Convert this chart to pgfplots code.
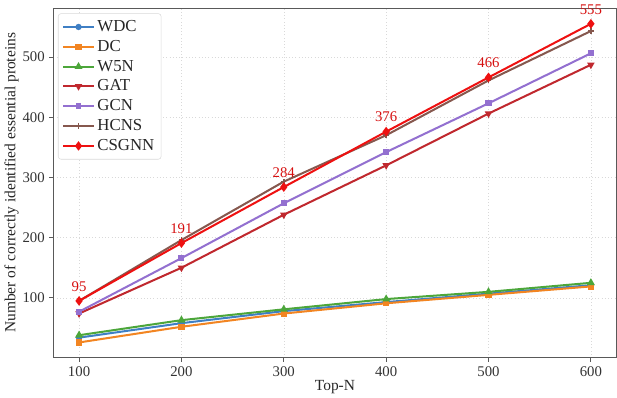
\documentclass[border=0pt]{standalone}
\usepackage{fontspec}
\setmainfont{Liberation Serif}
\usepackage{pgfplots}
\pgfplotsset{compat=1.18}
\definecolor{cwdc}{HTML}{3F7FC4}
\definecolor{cdc}{HTML}{F28522}
\definecolor{cw5n}{HTML}{4CA63A}
\definecolor{cgat}{HTML}{C0282E}
\definecolor{cgcn}{HTML}{9370D0}
\definecolor{chcns}{HTML}{86584E}
\definecolor{ccsg}{HTML}{EE1111}
\begin{document}
\begin{tikzpicture}
\begin{axis}[
  scale only axis,
  width=419pt, height=260pt,
  xmin=75, xmax=625, ymin=1, ymax=581,
  xtick={100,200,300,400,500,600},
  ytick={100,200,300,400,500},
  tick align=outside,
  xtick pos=bottom, ytick pos=left,
  major tick length=3pt,
  tick style={gray!70!black, line width=0.6pt},
  axis line style={gray!70!black, line width=0.8pt},
  grid=major,
  grid style={dotted, gray!30, line width=0.4pt},
  ticklabel style={font=\fontsize{11}{12}\selectfont, text=black!80},
  /pgf/number format/assume math mode=true,
  xlabel={Top-N},
  ylabel={Number of correctly identified essential proteins},
  label style={font=\fontsize{11.5}{13}\selectfont, text=black!85},
  xlabel style={yshift=4pt},
  ylabel style={yshift=-4pt},
  clip=false,
  legend style={at={(0.008,0.985)}, anchor=north west, draw=gray!30, rounded corners=2pt,
    font=\fontsize{12.5}{14.5}\selectfont, row sep=1pt, inner sep=3pt, text=black!85},
  legend cell align=left,
  legend image code/.code={\draw[mark repeat=2,mark phase=2,line width=1.4pt] plot coordinates {(0cm,0cm)(0.4cm,0cm)(0.8cm,0cm)};},
  every axis plot/.append style={line width=1.5pt, mark size=1.6pt},
]
\addplot[cwdc, mark=*] coordinates {(100,34)(200,58)(300,78)(400,93)(500,107)(600,121)};
\addlegendentry{WDC}
\addplot[cdc, mark=square*, mark size=1.6pt] coordinates {(100,26)(200,52)(300,74)(400,91)(500,105)(600,119)};
\addlegendentry{DC}
\addplot[cw5n, mark=triangle*, mark size=2pt] coordinates {(100,38)(200,63)(300,81)(400,98)(500,110)(600,125)};
\addlegendentry{W5N}
\addplot[cgat, mark=triangle*, mark options={rotate=180}, mark size=1.8pt] coordinates {(100,74)(200,150)(300,238)(400,320)(500,406)(600,487)};
\addlegendentry{GAT}
\addplot[cgcn, mark=square*, mark size=1.5pt] coordinates {(100,77)(200,166)(300,257)(400,342)(500,423)(600,506)};
\addlegendentry{GCN}
\addplot[chcns, mark=+, mark options={line width=1.2pt}, mark size=2pt] coordinates {(100,95)(200,196)(300,293)(400,370)(500,461)(600,543)};
\addlegendentry{HCNS}
\addplot[ccsg, mark=diamond*, mark size=2.4pt,
  nodes near coords, point meta=explicit symbolic,
  every node near coord/.append style={font=\fontsize{11}{12}\selectfont, text=ccsg!90!black, yshift=3pt}]
  coordinates {(100,95)[95](200,191)[191](300,284)[284](400,376)[376](500,466)[466](600,555)[555]};
\addlegendentry{CSGNN}
\end{axis}
\end{tikzpicture}
\end{document}
